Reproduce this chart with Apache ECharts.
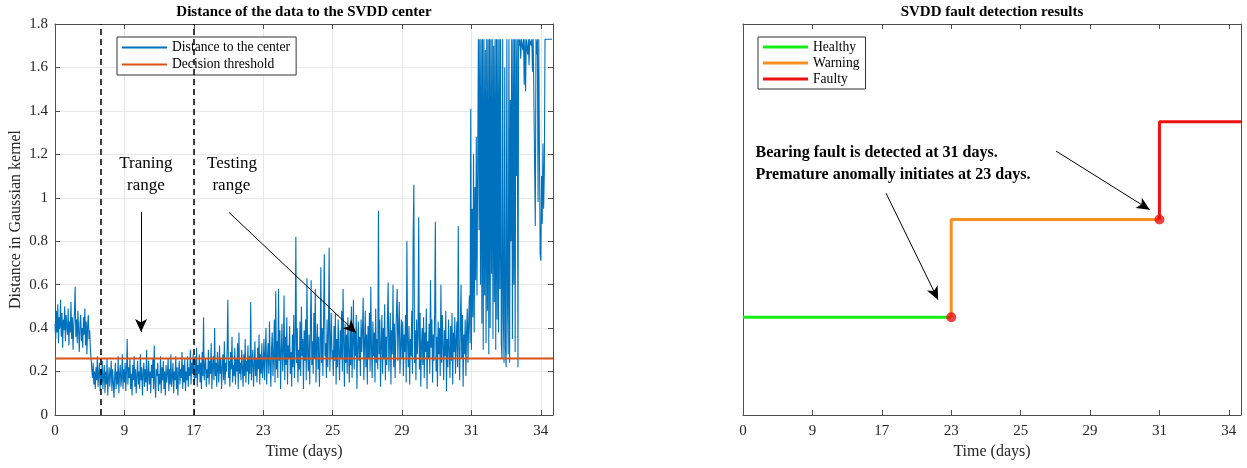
<!DOCTYPE html>
<html><head><meta charset="utf-8">
<script src="https://cdn.jsdelivr.net/npm/echarts@6/dist/echarts.min.js"></script>
<style>html,body{margin:0;padding:0;background:#fff}#c{width:1247px;height:468px}</style>
</head><body><div id="c"></div>
<script>
// ---- data ----
const tickLabels = ['0','9','17','23','25','29','31','34'];
const samplesPerTick = 100;
const xMax = 7.175;
const distanceSeg0 = [
 0.42,0.35,0.48,0.38,0.51,0.33,0.45,0.40,0.53,0.36,
 0.47,0.31,0.44,0.39,0.50,0.34,0.46,0.41,0.37,0.49,
 0.32,0.43,0.38,0.52,0.35,0.45,0.30,0.41,0.47,0.59,
 0.36,0.44,0.33,0.48,0.39,0.29,0.42,0.46,0.34,0.40,
 0.31,0.45,0.37,0.49,0.32,0.43,0.28,0.41,0.46,0.35,
 0.39,0.30,0.26,0.21,0.17,0.24,0.14,0.20,0.12,0.22,
 0.16,0.27,0.13,0.19,0.24,0.11,0.21,0.15,0.25,0.12,
 0.18,0.23,0.10,0.20,0.14,0.26,0.09,0.17,0.22,0.13,
 0.19,0.25,0.11,0.21,0.15,0.08,0.18,0.24,0.12,0.20,
 0.14,0.27,0.10,0.19,0.23,0.13,0.17,0.28,0.12,0.21];
const distanceSeg1 = [
 0.15,0.24,0.11,0.20,0.35,0.14,0.22,0.17,0.26,0.12,
 0.19,0.09,0.23,0.16,0.27,0.13,0.21,0.10,0.18,0.25,
 0.14,0.20,0.12,0.28,0.16,0.22,0.09,0.19,0.24,0.13,
 0.21,0.15,0.30,0.11,0.18,0.25,0.14,0.20,0.10,0.23,
 0.17,0.26,0.12,0.32,0.15,0.08,0.21,0.18,0.24,0.11,
 0.19,0.14,0.27,0.10,0.22,0.16,0.25,0.12,0.20,0.09,
 0.23,0.15,0.19,0.26,0.11,0.21,0.14,0.28,0.13,0.18,
 0.24,0.10,0.20,0.16,0.27,0.12,0.22,0.09,0.19,0.25,
 0.14,0.21,0.17,0.29,0.12,0.23,0.15,0.26,0.11,0.20,
 0.16,0.27,0.13,0.22,0.18,0.30,0.14,0.24,0.19,0.28];
const distanceSeg2 = [
 0.20,0.14,0.27,0.17,0.31,0.13,0.23,0.19,0.28,0.15,
 0.24,0.12,0.29,0.18,0.45,0.16,0.22,0.26,0.13,0.21,
 0.17,0.30,0.14,0.25,0.19,0.33,0.12,0.23,0.27,0.16,
 0.40,0.18,0.24,0.13,0.29,0.21,0.15,0.32,0.19,0.26,
 0.12,0.22,0.28,0.16,0.34,0.14,0.24,0.20,0.30,0.53,
 0.17,0.25,0.13,0.29,0.21,0.36,0.15,0.23,0.18,0.31,
 0.14,0.26,0.20,0.33,0.12,0.38,0.19,0.24,0.16,0.30,
 0.22,0.13,0.28,0.18,0.35,0.15,0.25,0.20,0.32,0.14,
 0.27,0.19,0.52,0.16,0.24,0.30,0.13,0.22,0.34,0.18,
 0.26,0.15,0.31,0.21,0.37,0.14,0.28,0.19,0.33,0.17];
const distanceSeg3 = [
 0.22,0.35,0.16,0.29,0.40,0.14,0.26,0.33,0.19,0.43,
 0.24,0.13,0.31,0.38,0.18,0.27,0.44,0.15,0.57,0.21,
 0.34,0.17,0.58,0.25,0.39,0.12,0.30,0.42,0.20,0.28,
 0.55,0.16,0.36,0.23,0.45,0.14,0.32,0.26,0.41,0.19,
 0.29,0.13,0.37,0.22,0.46,0.17,0.33,0.82,0.24,0.40,
 0.15,0.30,0.21,0.43,0.18,0.50,0.27,0.35,0.12,0.39,
 0.25,0.44,0.16,0.63,0.28,0.20,0.37,0.14,0.41,0.62,
 0.23,0.34,0.19,0.47,0.26,0.58,0.15,0.31,0.42,0.21,
 0.36,0.13,0.29,0.68,0.24,0.40,0.18,0.45,0.74,0.27,
 0.33,0.17,0.44,0.22,0.38,0.77,0.20,0.31,0.47,0.26];
const distanceSeg4 = [
 0.30,0.18,0.41,0.25,0.47,0.14,0.35,0.22,0.44,0.28,
 0.16,0.39,0.26,0.48,0.20,0.58,0.33,0.13,0.42,0.24,
 0.37,0.19,0.45,0.29,0.15,0.40,0.23,0.50,0.17,0.34,
 0.53,0.21,0.38,0.27,0.46,0.12,0.31,0.43,0.25,0.36,
 0.18,0.44,0.29,0.39,0.54,0.16,0.32,0.48,0.22,0.37,
 0.14,0.41,0.26,0.47,0.20,0.59,0.30,0.17,0.43,0.27,
 0.38,0.15,0.49,0.24,0.35,0.21,0.94,0.28,0.44,0.13,
 0.32,0.46,0.19,0.40,0.26,0.51,0.16,0.36,0.23,0.45,
 0.61,0.20,0.33,0.47,0.14,0.39,0.28,0.60,0.22,0.42,
 0.17,0.35,0.48,0.58,0.25,0.40,0.52,0.19,0.31,0.44];
const distanceSeg5 = [
 0.26,0.43,0.18,0.37,0.29,0.46,0.15,0.80,0.33,0.22,
 0.41,0.14,0.35,0.27,0.48,0.19,0.82,1.06,0.24,0.39,
 0.16,0.44,0.28,0.36,0.91,0.21,0.47,0.13,0.32,0.40,
 0.23,0.45,0.17,0.38,0.29,0.49,0.12,0.34,0.26,0.42,
 0.19,0.62,0.31,0.44,0.15,0.37,0.25,0.47,0.89,0.20,
 0.36,0.13,0.43,0.28,0.40,0.18,0.60,0.24,0.46,0.32,
 0.16,0.39,0.27,0.48,0.11,0.35,0.22,0.44,0.30,0.17,
 0.41,0.25,0.47,0.14,0.38,0.29,0.45,0.19,0.34,0.43,
 0.22,0.87,0.31,0.16,0.40,0.60,0.26,0.46,0.13,0.37,
 0.28,0.44,0.18,0.39,0.49,0.24,0.42,0.55,0.33,1.41];
const distanceSeg6 = [
 0.30,0.95,0.45,1.20,0.38,1.05,0.62,1.28,0.55,1.15,
 1.73,0.85,1.73,0.60,1.73,0.42,1.73,0.30,1.73,0.55,
 1.68,0.33,1.73,0.48,1.73,0.28,1.73,0.40,1.73,0.65,
 1.73,0.35,1.70,0.52,1.73,0.30,1.73,0.44,1.73,0.38,
 1.73,0.58,1.73,0.33,
 0.26,1.73,0.45,0.24,1.60,0.31,0.22,1.73,0.50,0.28,
 1.73,0.24,1.45,0.80,1.73,0.35,1.73,0.60,1.73,0.29,
 1.73,1.10,1.73,0.22,
 1.73,1.70,1.73,1.64,1.73,1.73,1.68,1.73,1.52,1.73,
 1.49,1.73,1.73,1.66,1.73,1.61,1.73,1.73,1.70,1.73,
 1.58,1.73,1.73,1.73,0.87,1.73,1.66,1.73,0.98,1.73,
 1.20,0.74];
const distanceSeg7 = [0.71,1.10,0.88,1.25,0.95,1.12,1.73,1.73,1.73,1.73,1.73,1.73,1.73,1.73,1.73,1.73,1.73,1.73];
const decisionThreshold = 0.26;
const phaseBoundaries = [0.66, 2.0];
const healthyLine = [[0,1],[3,1]];
const warningLine = [[3,1],[3,2],[6,2]];
const faultyLine = [[6,2],[6,3],[xMax,3]];
const detectionPoints = [[3,1],[6,2]];

// ---- build ----
const distance = [].concat(distanceSeg0,distanceSeg1,distanceSeg2,distanceSeg3,distanceSeg4,distanceSeg5,distanceSeg6,distanceSeg7);
const distanceData = distance.map((v,i)=>[i/samplesPerTick, v]);
const FONT = 'Liberation Serif';
const AX = '#4d4d4d';
const labelFmt = v => (Math.abs(v-Math.round(v))<1e-6 && tickLabels[Math.round(v)]!==undefined) ? tickLabels[Math.round(v)] : '';

function xAx(grid, pos, labels){
  return {gridIndex:grid, type:'value', min:0, max:xMax, interval:1, position:pos,
    axisLine:{show:true, onZero:false, lineStyle:{color:AX, width:1}},
    axisTick:{show:true, inside:true, length:5, lineStyle:{color:AX}},
    axisLabel:{show:labels, formatter:labelFmt, fontFamily:FONT, fontSize:15, color:'#262626', margin:9, showMaxLabel:false},
    splitLine:{show: grid===0 && pos==='bottom', lineStyle:{color:'#e8e8e8'}},
    name: labels ? 'Time (days)' : '', nameLocation:'middle', nameGap:29,
    nameTextStyle:{fontFamily:FONT, fontSize:16, color:'#262626'}};
}

const chart = echarts.init(document.getElementById('c'), null, {renderer:'canvas'});
const option = {
  animation:false,
  backgroundColor:'#fff',
  title:[
    {text:'Distance of the data to the SVDD center', left:304, top:5, textAlign:'center', padding:0,
     textStyle:{fontFamily:FONT, fontWeight:'bold', fontSize:15, color:'#000'}},
    {text:'SVDD fault detection results', left:992, top:5, textAlign:'center', padding:0,
     textStyle:{fontFamily:FONT, fontWeight:'bold', fontSize:15, color:'#000'}}
  ],
  grid:[
    {left:55, top:24, width:498, height:391},
    {left:743, top:24, width:498, height:391}
  ],
  legend:[
    {data:['Distance to the center','Decision threshold'], orient:'vertical', left:117, top:37,
     padding:[2,6,2,5], itemGap:0, itemWidth:45, itemHeight:2, icon:'rect',
     borderColor:'#333', borderWidth:1, backgroundColor:'#fff',
     textStyle:{fontFamily:FONT, fontSize:13.6, color:'#000', lineHeight:17}},
    {data:['Healthy','Warning','Faulty'], orient:'vertical', left:758, top:37,
     padding:[2,6,2,5], itemGap:0, itemWidth:45, itemHeight:3, icon:'rect',
     borderColor:'#333', borderWidth:1, backgroundColor:'#fff',
     textStyle:{fontFamily:FONT, fontSize:13.6, color:'#000', lineHeight:16}}
  ],
  xAxis:[ xAx(0,'bottom',true), xAx(0,'top',false), xAx(1,'bottom',true), xAx(1,'top',false) ],
  yAxis:[
    {gridIndex:0, type:'value', min:0, max:1.8, interval:0.2, position:'left',
     axisLine:{show:true, onZero:false, lineStyle:{color:AX}},
     axisTick:{show:true, inside:true, length:5, lineStyle:{color:AX}},
     axisLabel:{fontFamily:FONT, fontSize:15, color:'#262626', margin:7},
     splitLine:{show:true, lineStyle:{color:'#e8e8e8'}},
     name:'Distance in Gaussian kernel', nameLocation:'middle', nameGap:31,
     nameTextStyle:{fontFamily:FONT, fontSize:16, color:'#262626'}},
    {gridIndex:0, type:'value', min:0, max:1.8, interval:0.2, position:'right',
     axisLine:{show:true, onZero:false, lineStyle:{color:AX}},
     axisTick:{show:true, inside:true, length:5, lineStyle:{color:AX}},
     axisLabel:{show:false}, splitLine:{show:false}},
    {gridIndex:1, type:'value', min:0, max:4, position:'left',
     axisLine:{show:true, onZero:false, lineStyle:{color:AX}},
     axisTick:{show:false}, axisLabel:{show:false}, splitLine:{show:false}},
    {gridIndex:1, type:'value', min:0, max:4, position:'right',
     axisLine:{show:true, onZero:false, lineStyle:{color:AX}},
     axisTick:{show:false}, axisLabel:{show:false}, splitLine:{show:false}}
  ],
  series:[
    {type:'line', name:'Distance to the center', xAxisIndex:0, yAxisIndex:0, data:distanceData,
     symbol:'none', lineStyle:{width:1.1, color:'#0072BD'}, itemStyle:{color:'#0072BD'}, z:2,
     markLine:{silent:true, symbol:['none','arrow'], symbolSize:[9,13], label:{show:false},
       lineStyle:{color:'#000', width:1, type:'solid'},
       data:[
         [{coord:[1.24,0.935]},{coord:[1.24,0.382]}],
         [{coord:[2.51,0.932]},{coord:[4.34,0.378]}]
       ]}},
    {type:'line', name:'Decision threshold', xAxisIndex:0, yAxisIndex:0,
     data:[[0,decisionThreshold],[xMax,decisionThreshold]],
     symbol:'none', lineStyle:{width:2, color:'#D95319'}, itemStyle:{color:'#D95319'}, z:3,
     markLine:{silent:true, symbol:'none', label:{show:false},
       lineStyle:{color:'#000', width:1.5, type:[6,4]},
       data: phaseBoundaries.map(v=>({xAxis:v}))}},
    {type:'line', name:'Healthy', xAxisIndex:2, yAxisIndex:2, data:healthyLine,
     symbol:'none', lineStyle:{width:3, color:'#14EE14'}, itemStyle:{color:'#14EE14'}, z:2,
     markLine:{silent:true, symbol:['none','arrow'], symbolSize:[9,13], label:{show:false},
       lineStyle:{color:'#000', width:1, type:'solid'},
       data:[
         [{coord:[4.51,2.70]},{coord:[5.86,2.10]}],
         [{coord:[2.06,2.27]},{coord:[2.81,1.18]}]
       ]}},
    {type:'line', name:'Warning', xAxisIndex:2, yAxisIndex:2, data:warningLine,
     symbol:'none', lineStyle:{width:3, color:'#F7901E'}, itemStyle:{color:'#F7901E'}, z:3},
    {type:'line', name:'Faulty', xAxisIndex:2, yAxisIndex:2, data:faultyLine,
     symbol:'none', lineStyle:{width:3, color:'#EE1111'}, itemStyle:{color:'#EE1111'}, z:4},
    {type:'scatter', name:'Detection', xAxisIndex:2, yAxisIndex:2, data:detectionPoints,
     symbol:'circle', symbolSize:10, itemStyle:{color:'#F01010'}, z:5}
  ]
};
chart.setOption(option);

const leftNotes = [
  {text:'Traning', at:[1.31,1.156]}, {text:'range', at:[1.31,1.057]},
  {text:'Testing', at:[2.55,1.156]}, {text:'range', at:[2.54,1.057]}
];
const rightNotes = [
  {text:'Bearing fault is detected at 31 days.', at:[0.18,2.68]},
  {text:'Premature anomally initiates at 23 days.', at:[0.18,2.46]}
];
const g = [];
leftNotes.forEach(n=>{
  const p = chart.convertToPixel({gridIndex:0}, n.at);
  g.push({type:'text', x:p[0], y:p[1], z:10, style:{text:n.text, fill:'#000', font:'17px "Liberation Serif"', textAlign:'center', textVerticalAlign:'middle'}});
});
rightNotes.forEach(n=>{
  const p = chart.convertToPixel({gridIndex:1}, n.at);
  g.push({type:'text', x:p[0], y:p[1], z:10, style:{text:n.text, fill:'#000', font:'bold 16px "Liberation Serif"', textAlign:'left', textVerticalAlign:'middle'}});
});
chart.setOption({graphic:g});
</script></body></html>
